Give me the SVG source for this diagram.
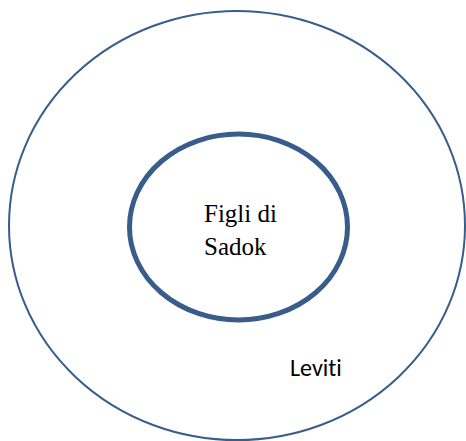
<svg xmlns="http://www.w3.org/2000/svg" width="466" height="441" viewBox="0 0 466 441">
<style>
.ring{fill:none;stroke:#385D8A}
.serif{font-family:"Liberation Serif","Times New Roman",serif;font-size:25px;fill:#000}
.sans{font-family:"Carlito","Liberation Sans",Arial,sans-serif;font-size:24px;fill:#000;font-variant-ligatures:none}
</style>
<rect width="466" height="441" fill="#fff"/>
<g id="outer">
<ellipse class="ring" cx="237" cy="225.5" rx="228" ry="214.5" stroke-width="2"/>
<text class="sans" x="290" y="376">Leviti</text>
</g>
<g id="inner">
<ellipse class="ring" cx="238.5" cy="227" rx="109" ry="93" stroke-width="5"/>
<text class="serif" x="204" y="222">Figli di</text>
<text class="serif" x="204" y="255">Sadok</text>
</g>
<g id="connectors"/>
</svg>
